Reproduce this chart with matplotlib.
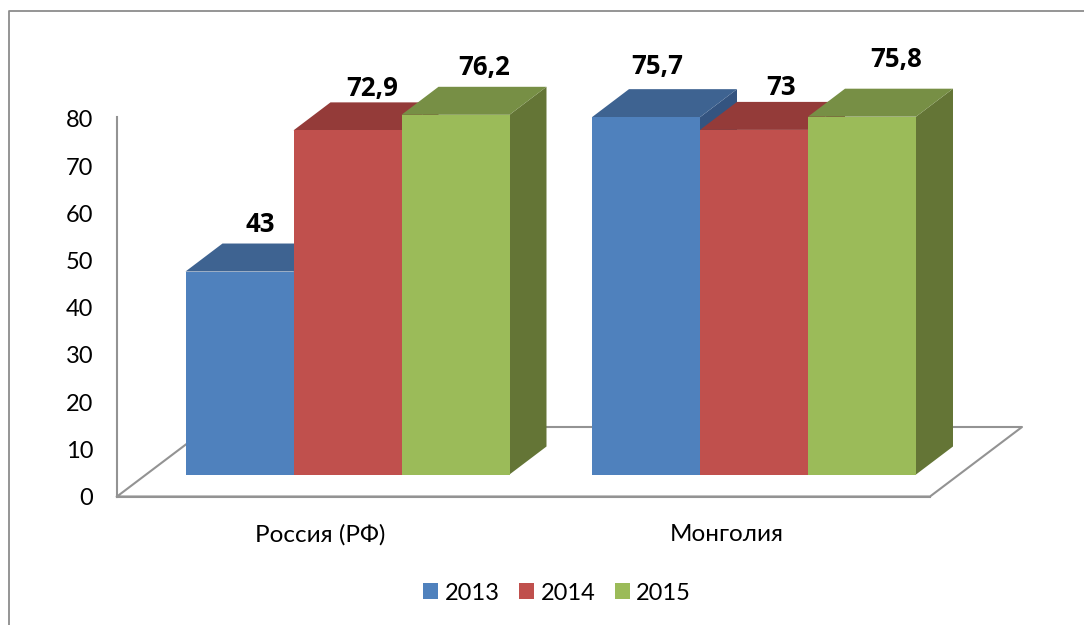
import matplotlib
matplotlib.use('Agg')
import matplotlib.pyplot as plt
from matplotlib.lines import Line2D
from matplotlib.patches import Patch, Polygon

plt.rcParams['font.family'] = ['Lato', 'DejaVu Sans']

# Chart data
categories = ['Россия (РФ)', 'Монголия']
years = ['2013', '2014', '2015']
values_2013 = [43, 75.7]
values_2014 = [72.9, 73]
values_2015 = [76.2, 75.8]
value_labels_2013 = ['43', '75,7']
value_labels_2014 = ['72,9', '73']
value_labels_2015 = ['76,2', '75,8']
y_ticks = [0, 10, 20, 30, 40, 50, 60, 70, 80]

series = [values_2013, values_2014, values_2015]
series_labels = [value_labels_2013, value_labels_2014, value_labels_2015]

# Colours per series: front, top, side
front_colors = ['#4F81BD', '#C0504D', '#9BBB59']
top_colors = ['#3E6391', '#943B39', '#778F45']
side_colors = ['#345480', '#7F3331', '#647536']
line_color = '#939393'

W, H = 1084, 625
fig = plt.figure(figsize=(W / 100, H / 100), dpi=100)

# Axes rectangle in pixels: x 117-930, y 116.5-496.5
ax = fig.add_axes([117 / W, 1 - 496.5 / H, (930 - 117) / W, 380 / H])
ax.set_xlim(0, 2)
ax.set_ylim(0, 80.5)

# Fake 3D sizes converted from pixels to data units
px_x = 2 / (930 - 117)
px_y = 80.5 / 380
depth_x = 37 * px_x
depth_y = 28 * px_y
lift = 22 * px_y
group_start = 68.5 * px_x
bar_width = 108 * px_x

# Floor of the 3D chart, the bars hide most of its back edges
floor_x = [0, 2, 2 + 92 * px_x, 92 * px_x, 0]
floor_y = [0, 0, 69.5 * px_y, 69.5 * px_y, 0]
ax.plot(floor_x, floor_y, color=line_color, lw=1.5, clip_on=False, zorder=1)

# Bars, left to right so that each one covers the side of the previous one
z = 2
for g in range(len(categories)):
    for s in range(len(series)):
        left = g + group_start + s * bar_width
        right = left + bar_width
        top = series[s][g] + lift
        ax.add_patch(Polygon([(right, lift), (right + depth_x, lift + depth_y),
                              (right + depth_x, top + depth_y), (right, top)],
                             facecolor=side_colors[s], edgecolor='none', clip_on=False, zorder=z))
        ax.add_patch(Polygon([(left, top), (left + depth_x, top + depth_y),
                              (right + depth_x, top + depth_y), (right, top)],
                             facecolor=top_colors[s], edgecolor='none', clip_on=False, zorder=z))
        ax.bar(left, series[s][g], width=bar_width, bottom=lift, align='edge',
               color=front_colors[s], clip_on=False, zorder=z)
        z += 1

# Value labels, offset in pixels from the front top centre of each bar
label_offsets = [[(21, 47), (11, 51)],
                 [(25, 42), (27, 42)],
                 [(29, 47), (34, 57)]]
for g in range(len(categories)):
    for s in range(len(series)):
        center = g + group_start + (s + 0.5) * bar_width
        ax.annotate(series_labels[s][g], (center, series[s][g] + lift),
                    xytext=(label_offsets[s][g][0] * 0.72, label_offsets[s][g][1] * 0.72),
                    textcoords='offset points', ha='center', va='center',
                    fontsize=18.5, fontweight='bold', family='Open Sans', color='black',
                    zorder=50, annotation_clip=False)

# Axes
ax.set_xticks([0.5, 1.5])
ax.set_xticklabels(categories)
ax.set_yticks(y_ticks)
ax.tick_params(axis='x', length=0, pad=20, labelsize=17.5, labelcolor='black')
ax.tick_params(axis='y', length=0, pad=17, labelsize=17, labelcolor='black')
ax.spines['top'].set_visible(False)
ax.spines['right'].set_visible(False)
ax.spines['left'].set_color(line_color)
ax.spines['bottom'].set_color(line_color)
ax.spines['left'].set_linewidth(1.5)
ax.spines['bottom'].set_linewidth(1.5)
ax.patch.set_alpha(0)

# Legend
handles = [Patch(facecolor=c, edgecolor='none') for c in front_colors]
fig.legend(handles, years, ncols=3, loc='center', bbox_to_anchor=(557 / W, 1 - 593 / H),
           frameon=False, fontsize=17, handlelength=0.64, handleheight=0.64,
           handletextpad=0.27, columnspacing=0.82, borderpad=0)

# Outer frame, open on the right and at the bottom
fig.add_artist(Line2D([9 / W, 9 / W, 1], [0, 1 - 11 / H, 1 - 11 / H],
                      color='#8C8C8C', lw=1.3))

plt.savefig('out.png', dpi=100)
